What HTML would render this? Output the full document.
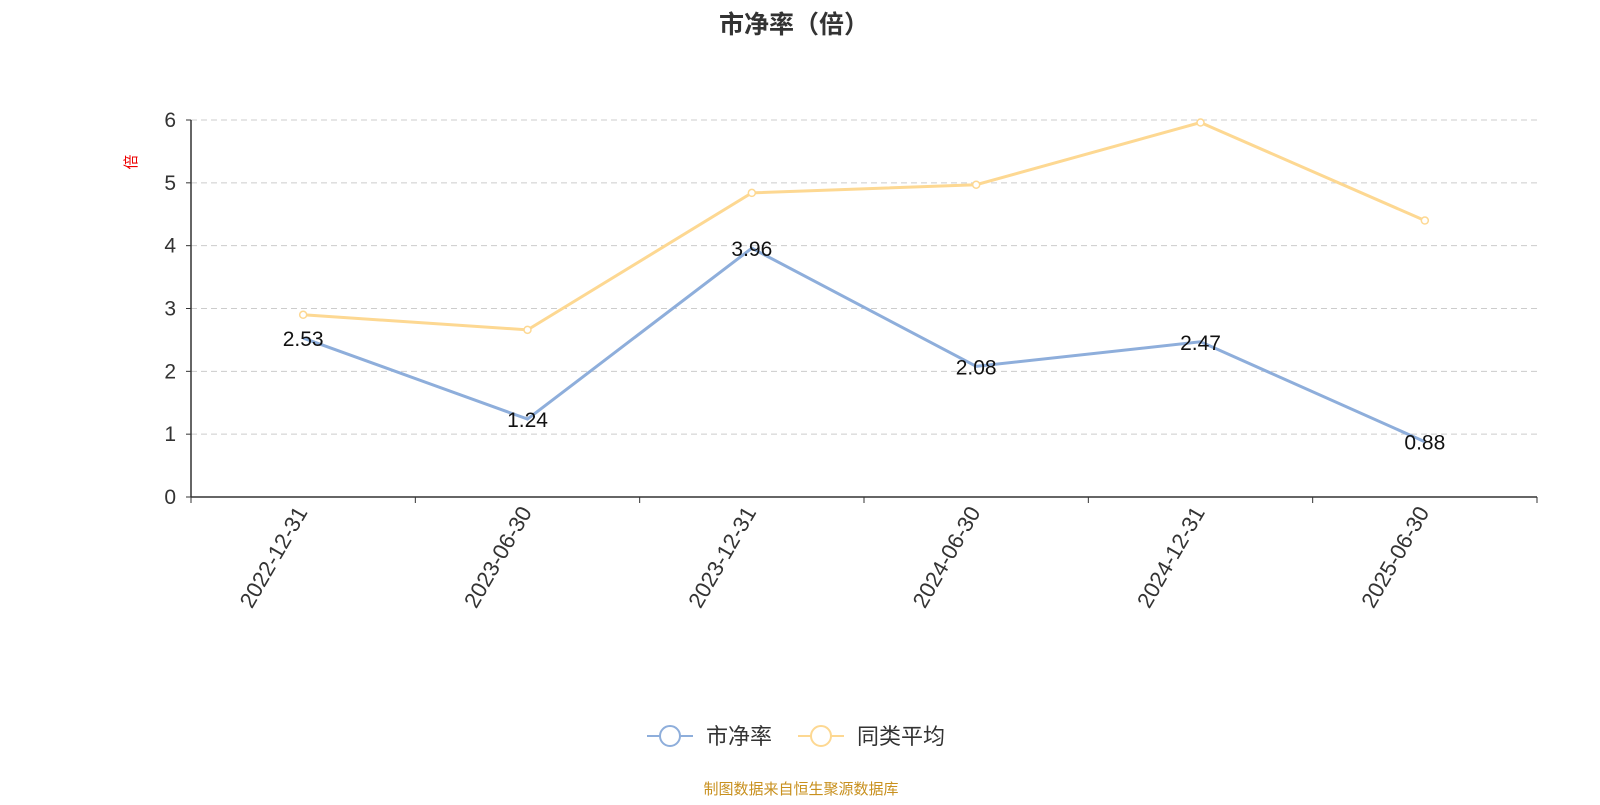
<!DOCTYPE html>
<html><head><meta charset="utf-8">
<style>
body{margin:0;background:#fff;}
svg text{font-family:"Liberation Sans","Noto Sans CJK SC",sans-serif;}
</style></head>
<body>
<svg id="chart" width="1600" height="800" xmlns="http://www.w3.org/2000/svg">
<text x="794" y="33" text-anchor="middle" font-size="25" font-weight="bold" fill="#333">市净率（倍）</text>
<text transform="translate(136,162) rotate(-90)" text-anchor="middle" font-size="15" fill="#e00">倍</text>
<g id="grid"></g><g id="axes"></g><g id="series"></g>
<g>
 <g>
  <line x1="647" y1="736" x2="693" y2="736" stroke="#8eaedb" stroke-width="2"/>
  <circle cx="670" cy="736" r="10" fill="#fff" stroke="#8eaedb" stroke-width="2"/>
  <text x="706" y="744" font-size="22" fill="#333">市净率</text>
 </g>
 <g>
  <line x1="798" y1="736" x2="844" y2="736" stroke="#fdd892" stroke-width="2"/>
  <circle cx="821" cy="736" r="10" fill="#fff" stroke="#fdd892" stroke-width="2"/>
  <text x="857" y="744" font-size="22" fill="#333">同类平均</text>
 </g>
</g>
<text x="801" y="794" text-anchor="middle" font-size="15" fill="#c8901e">制图数据来自恒生聚源数据库</text>
</svg>
<script>
const categories=["2022-12-31","2023-06-30","2023-12-31","2024-06-30","2024-12-31","2025-06-30"];
const pbValues=[2.53,1.24,3.96,2.08,2.47,0.88];
const avgValues=[2.9,2.66,4.84,4.97,5.96,4.4];
const yTicks=[0,1,2,3,4,5,6];
const NS="http://www.w3.org/2000/svg";
const X0=191,X1=1537,Y0=497,Y1=120,YMAX=6;
const band=(X1-X0)/categories.length;
const xs=i=>X0+band*(i+0.5);
const ys=v=>Y0-(v/YMAX)*(Y0-Y1);
function mk(tag,attrs,parent){const e=document.createElementNS(NS,tag);for(const k in attrs)e.setAttribute(k,attrs[k]);parent.appendChild(e);return e;}
const grid=document.getElementById('grid'),axes=document.getElementById('axes'),ser=document.getElementById('series');
yTicks.forEach(t=>{
 const y=ys(t);
 if(t>0){const g=mk('line',{x1:X0,x2:X1,y1:y,y2:y,stroke:'#ccc','stroke-dasharray':'6,4'},grid);
 
 }
 mk('line',{x1:X0-5,x2:X0,y1:y,y2:y,stroke:'#333'},axes);
 const tx=mk('text',{x:X0-15,y:y+7,'text-anchor':'end','font-size':21,fill:'#333'},axes);
 tx.textContent=t;
 
 
});
const ya=mk('line',{x1:X0,x2:X0,y1:Y1,y2:Y0,stroke:'#333','stroke-width':1.5},axes);


const xa=mk('line',{x1:X0,x2:X1,y1:Y0,y2:Y0,stroke:'#333','stroke-width':1.5},axes);


for(let i=0;i<=categories.length;i++){const x=X0+band*i;mk('line',{x1:x,x2:x,y1:Y0,y2:Y0+6,stroke:'#333'},axes);}
categories.forEach((c,i)=>{
 const x=xs(i);
 const t=mk('text',{transform:`translate(${x+5},${Y0+15}) rotate(-60)`,'text-anchor':'end','font-size':22,fill:'#333'},axes);
 t.textContent=c;
 
 
});
function drawSeries(vals,color,name,labels){
 const p=mk('polyline',{points:vals.map((v,i)=>xs(i)+','+ys(v)).join(' '),fill:'none',stroke:color,'stroke-width':3},ser);
 
 
 vals.forEach((v,i)=>{
  if(!labels){const c=mk('circle',{cx:xs(i),cy:ys(v),r:3.5,fill:'#fff',stroke:color,'stroke-width':1.5},ser);
  
  }
  else{const t=mk('text',{x:xs(i),y:ys(v)+8,'text-anchor':'middle','font-size':21,fill:'#111'},ser);
  t.textContent=v.toFixed(2);
  
  }
 });
}
drawSeries(avgValues,'#fdd892','peer-average',false);
drawSeries(pbValues,'#8eaedb','pb',true);
</script>
</body></html>
